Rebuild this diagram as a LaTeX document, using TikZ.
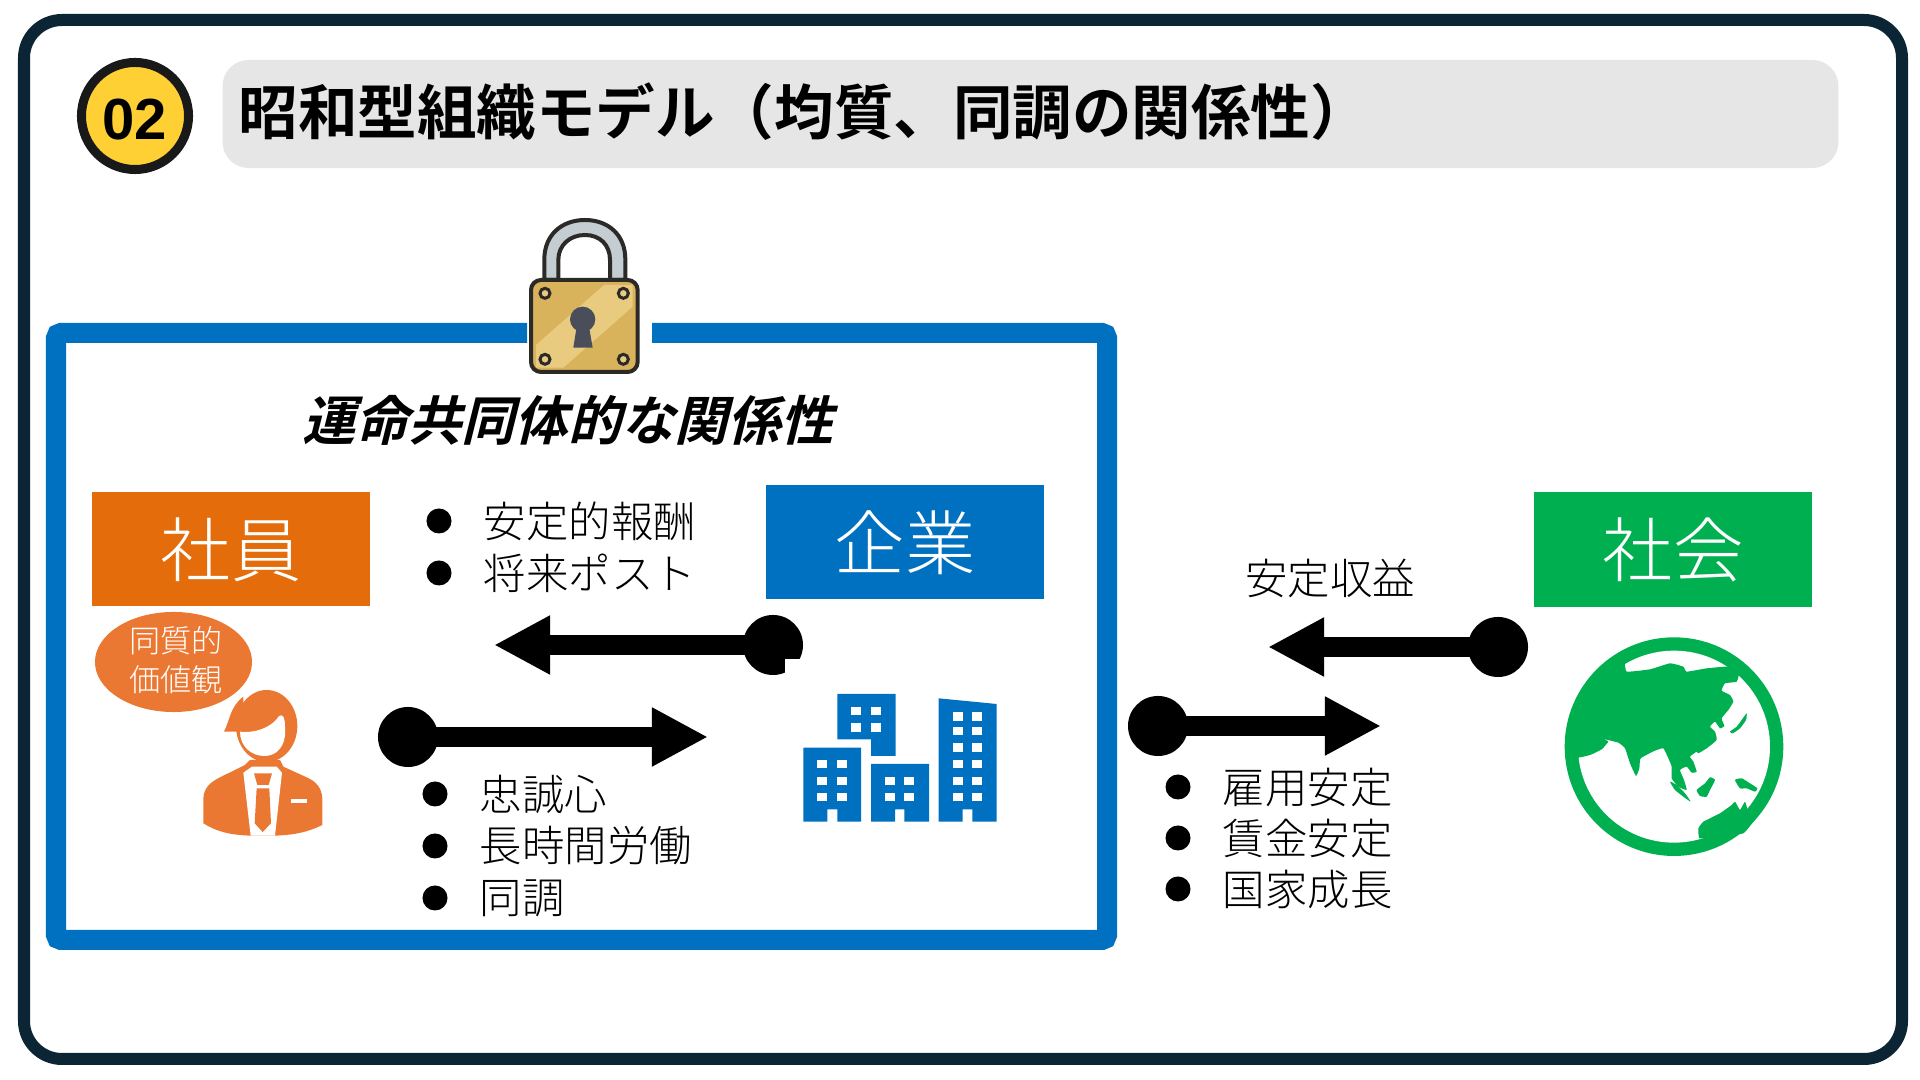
\documentclass[tikz,border=0pt]{standalone}
\usepackage{fontspec}
\setmainfont{Noto Sans CJK JP Light}
\newfontfamily\boldjp{Noto Sans CJK JP Bold}
\newfontfamily\slantjp[FakeSlant=0.25]{Noto Sans CJK JP Bold}
\newfontfamily\numfont{Liberation Sans}
\usetikzlibrary{positioning,arrows.meta,shapes.geometric}

\definecolor{framenavy}{HTML}{0B2535}
\definecolor{bargray}{HTML}{E6E6E6}
\definecolor{badgeyellow}{HTML}{FFD033}
\definecolor{empbox}{HTML}{E46C0A}
\definecolor{empicon}{HTML}{EB7832}
\definecolor{corpblue}{HTML}{0070C0}
\definecolor{socgreen}{HTML}{00B050}
\definecolor{lockdark}{HTML}{2B2A26}
\definecolor{lockgold}{HTML}{D9B25C}
\definecolor{lockshine}{HTML}{E9CB80}
\definecolor{locksteel}{HTML}{C3CDD2}
\definecolor{lockkey}{HTML}{4A4E5A}

\tikzset{
  partybox/.style={minimum width=2.78cm,minimum height=1.14cm,inner sep=0pt,text=white,text height=0.62cm,text depth=0.08cm,font=\fontsize{20pt}{24pt}\selectfont},
  listdot/.style={circle,fill=black,minimum size=0.25cm,inner sep=0pt},
  listtext/.style={inner sep=0pt,font=\fontsize{12.05pt}{14pt}\selectfont},
  flowdot/.style={circle,fill=black,minimum size=0.6cm,inner sep=0pt},
  flowarrow/.style={line width=0.2cm,-{Triangle[length=0.56cm,width=0.55cm]}},
}

\begin{document}
\begin{tikzpicture}[x=0.01cm,y=-0.01cm]
  \useasboundingbox (0,0) rectangle (1920,1080);
  % 外枠
  \draw[framenavy,line width=0.12cm,rounded corners=0.38cm] (24,20) rectangle (1902,1059);
  % 見出し
  \node[circle,fill=badgeyellow,draw=black!90,line width=0.09cm,minimum size=1.07cm,inner sep=0pt,text height=0.48cm,text depth=0cm,font=\numfont\bfseries\fontsize{16.5pt}{18pt}\selectfont] (badge) at (135,116) {02};
  \node[fill=bargray,rounded corners=0.26cm,minimum width=16.15cm,minimum height=1.08cm] (titlebar) at (1030.5,114) {};
  \node[anchor=west,inner sep=0pt,font=\boldjp\fontsize{16.93pt}{20pt}\selectfont] (title) at (238,112) {昭和型組織モデル（均質、同調の関係性）};
  % 青枠
  \draw[corpblue,line width=0.2cm,rounded corners=0.05cm] (527,333) -- (56,333) -- (56,940) -- (1107,940) -- (1107,333) -- (652,333);
  % 錠前
  \begin{scope}[shift={(500,200)},scale=1/3]
    \filldraw[fill=locksteel,draw=lockdark,line width=0.04cm] (133,240) -- (133,178) .. controls (133,105) and (185,60) .. (255,60) .. controls (325,60) and (376,105) .. (376,178) -- (376,240) -- (330,240) -- (330,180) .. controls (330,135) and (300,105) .. (255,105) .. controls (210,105) and (175,135) .. (175,180) -- (175,240) -- cycle;
    \fill[lockgold,rounded corners=0.1cm] (93,240) rectangle (413,516);
    \fill[lockshine] (312,255) -- (398,255) -- (398,320) -- (190,503) -- (108,503) -- (108,435) -- cycle;
    \draw[lockdark,line width=0.04cm,rounded corners=0.1cm] (93,240) rectangle (413,516);
    \foreach \sx/\sy in {135/280,370/280,135/478,370/478}
      \filldraw[fill=lockshine,draw=lockdark,line width=0.03cm] (\sx,\sy) circle (15);
    \fill[lockkey] (248,358) circle (38);
    \fill[lockkey] (230,380) -- (220,443) -- (278,443) -- (267,380) -- cycle;
  \end{scope}
  \node[inner sep=0pt,font=\slantjp\fontsize{15.1pt}{18pt}\selectfont] (fate) at (568,420) {運命共同体的な関係性};
  % 三者の箱
  \node[partybox,fill=empbox] (staff) at (231,549) {社員};
  \node[partybox,fill=corpblue] (corp) at (905,542) {企業};
  \node[partybox,fill=socgreen] (society) at (1673,549.5) {社会};
  % 社員アイコン
  \begin{scope}[shift={(80,590)},scale=1/3,empicon]
    \fill (370,700) -- (370,625) .. controls (372,590) and (395,575) .. (420,562) -- (495,525) -- (510,510) -- (600,510) -- (610,530) -- (680,562) .. controls (710,575) and (725,595) .. (727,625) -- (727,705) .. controls (680,728) and (640,735) .. (585,737) -- (512,737) .. controls (450,735) and (410,725) .. (370,700) -- cycle;
    \fill[white] (490,548) -- (516,530) -- (590,530) -- (606,548) -- (585,737) -- (512,737) -- cycle;
    \fill (522,550) -- (576,550) -- (566,585) -- (532,585) -- cycle;
    \fill (530,595) -- (568,595) -- (573,700) -- (548,726) -- (524,700) -- cycle;
    \fill[white] (632,627) rectangle (682,638);
    \fill (560,408) ellipse (92 and 108);
    \fill (432,425) .. controls (450,390) and (450,350) .. (490,320) -- (490,425) -- cycle;
    \fill[white] (480,425) .. controls (510,430) and (570,420) .. (597,378) .. controls (610,370) and (615,385) .. (615,410) .. controls (620,470) and (590,498) .. (553,498) .. controls (515,498) and (480,470) .. (480,425) -- cycle;
  \end{scope}
  \node[ellipse,fill=empicon,minimum width=1.57cm,minimum height=1cm,inner sep=0pt] (value) at (173.5,662) {};
  \node[text=white,inner sep=0pt,align=center,font=\fontsize{8.85pt}{10.9pt}\selectfont] (valuetext) at (176,660) {同質的\\価値観};
  % ビル
  \begin{scope}[shift={(780,680)},scale=1/3,corpblue]
    \fill (172,42) -- (347,42) -- (347,228) -- (273,228) -- (273,178) -- (172,178) -- cycle;
    \fill (70,203) -- (243,203) -- (243,425) -- (172,425) -- (172,388) -- (142,388) -- (142,425) -- (70,425) -- cycle;
    \fill (273,252) -- (447,252) -- (447,425) -- (373,425) -- (373,388) -- (345,388) -- (345,425) -- (273,425) -- cycle;
    \fill (476,55) -- (650,72) -- (650,425) -- (577,425) -- (577,388) -- (548,388) -- (548,425) -- (476,425) -- cycle;
    \foreach \wx/\wy in {214/80,272/80,214/130,272/130,112/240,172/240,112/290,172/290,112/339,172/339,315/290,373/290,315/339,373/339,520/97,577/97,520/141,577/141,520/190,577/190,520/240,577/240,520/290,577/290,520/339,577/339}
      \fill[white] (\wx,\wy) rectangle +(30,25);
  \end{scope}
  % 地球
  \begin{scope}[shift={(1540,620)},scale=1/3,socgreen]
    \fill (402,380) circle (328);
    \fill[white] (402,380) circle (288);
    \fill plot[smooth cycle,tension=0.25] coordinates {(100,412) (150,405) (185,388) (205,365) (190,357) (235,368) (255,385) (270,430) (288,468) (298,445) (302,415) (345,392) (370,385) (385,415) (395,440) (395,475) (415,500) (440,510) (432,480) (420,450) (440,440) (455,458) (470,455) (460,425) (450,410) (470,395) (475,400) (500,385) (530,360) (525,335) (510,320) (525,305) (540,325) (553,318) (545,295) (565,270) (580,245) (570,225) (545,212) (555,190) (590,185) (597,160) (585,140) (555,140) (500,145) (440,155) (430,140) (390,130) (330,148) (260,155) (250,130) (150,200) (95,320)};
    \fill plot[smooth cycle,tension=0.3] coordinates {(570,335) (590,320) (605,300) (620,280) (618,300) (600,325) (578,340)};
    \fill plot[smooth cycle,tension=0.3] coordinates {(390,485) (410,495) (435,520) (452,545) (430,530) (405,510)};
    \fill plot[smooth cycle,tension=0.3] coordinates {(470,510) (495,490) (510,472) (525,480) (510,510) (500,530) (480,528)};
    \fill plot[smooth cycle,tension=0.3] coordinates {(585,480) (605,475) (630,490) (652,505) (645,515) (620,505) (600,505)};
    \fill plot[smooth cycle,tension=0.2] coordinates {(475,625) (490,605) (540,580) (575,555) (585,545) (600,570) (615,545) (625,575) (650,590) (610,640) (520,650) (478,655)};
  \end{scope}
  % 矢印
  \node[flowdot] (corpdot) at (773,645) {};
  \coordinate (stafftip) at (494,645);
  \draw[flowarrow] (corpdot.center) -- (stafftip);
  \fill[white] (785,659) rectangle (806,678);
  \node[flowdot] (staffdot) at (408,737) {};
  \coordinate (corptip) at (708,737);
  \draw[flowarrow] (staffdot.center) -- (corptip);
  \node[flowdot] (societydot) at (1498,647) {};
  \coordinate (firmtip) at (1268,647);
  \draw[flowarrow] (societydot.center) -- (firmtip);
  \node[flowdot] (firmdot) at (1158,726) {};
  \coordinate (societytip) at (1381,726);
  \draw[flowarrow] (firmdot.center) -- (societytip);
  \node[listtext] (income) at (1330,578) {安定収益};
  % 箇条書き
  \foreach \px/\py/\pname/\ptext in {439/521/pay/安定的報酬,439/573/post/将来ポスト,435/794/loyal/忠誠心,435/846/hours/長時間労働,435/898/sync/同調,1178/787/job/雇用安定,1178/838/wage/賃金安定,1178/889/nation/国家成長}{
    \node[listdot] (dot\pname) at (\px,\py) {};
    \node[listtext,right=0.31cm of dot\pname] (txt\pname) {\ptext};
  }
\end{tikzpicture}
\end{document}
